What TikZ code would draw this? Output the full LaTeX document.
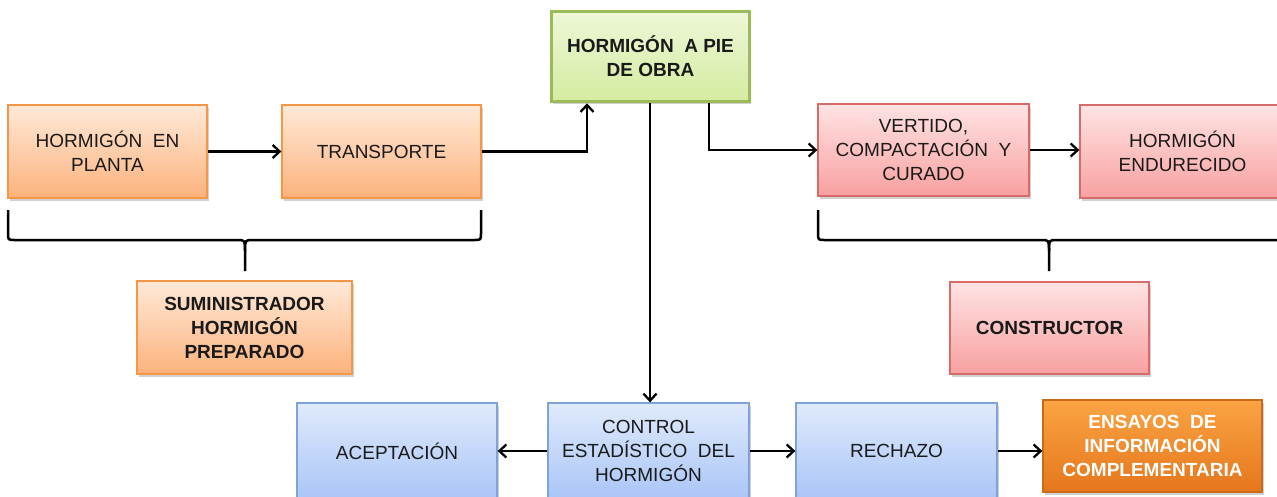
\documentclass[tikz,border=0pt]{standalone}
\usepackage{fontspec}
\setmainfont{Liberation Sans}
\usetikzlibrary{arrows.meta,shadows,calc}
\definecolor{orT}{HTML}{FFE9D8}
\definecolor{orB}{HTML}{FBB27C}
\definecolor{orD}{HTML}{F79646}
\definecolor{rdT}{HTML}{FFE3E3}
\definecolor{rdB}{HTML}{F8A0A0}
\definecolor{rdD}{HTML}{D86A6A}
\definecolor{blT}{HTML}{E0EAFC}
\definecolor{blB}{HTML}{A9C5F7}
\definecolor{blD}{HTML}{7FA3D9}
\definecolor{grT}{HTML}{EEF7D8}
\definecolor{grB}{HTML}{D4ECA0}
\definecolor{grD}{HTML}{9BBB59}
\definecolor{esT}{HTML}{FAA443}
\definecolor{esB}{HTML}{E5761C}
\definecolor{esD}{HTML}{CC6A1A}
\definecolor{txt}{HTML}{1A1A1A}
\tikzset{
  box/.style={rectangle, draw, line width=1.3pt, align=center, inner sep=2pt,
    font=\fontsize{19}{24}\selectfont, text=txt,
    drop shadow={shadow xshift=1.5pt, shadow yshift=-2.5pt, opacity=0.3, fill=black!60}},
  orbox/.style={box, top color=orT, bottom color=orB, draw=orD},
  rdbox/.style={box, top color=rdT, bottom color=rdB, draw=rdD},
  blbox/.style={box, top color=blT, bottom color=blB, draw=blD},
  grbox/.style={box, top color=grT, bottom color=grB, draw=grD, line width=3.5pt},
  esbox/.style={box, top color=esT, bottom color=esB, draw=esD, text=white},
  bold/.style={font=\fontsize{19}{24}\selectfont\bfseries},
  arr/.style={line width=2.3pt, -{Straight Barb[length=7pt,width=13pt,line width=2.3pt]}},
  brace/.style={line width=2.5pt, line join=round}
}
\begin{document}
\begin{tikzpicture}[x=1pt,y=-1pt]
\useasboundingbox (0,0) rectangle (1277,496);
% top-left row
\node[orbox, minimum width=199pt, minimum height=93pt] (planta) at (107.5,151.5) {HORMIGÓN\ \ EN\\PLANTA};
\node[orbox, minimum width=199pt, minimum height=93pt] (transp) at (381.5,151.5) {TRANSPORTE};
\node[orbox, bold, minimum width=215pt, minimum height=93pt] (sumin) at (244.5,327.5) {SUMINISTRADOR\\HORMIGÓN\\PREPARADO};
% centre
\node[grbox, bold, minimum width=198pt, minimum height=90pt] (pie) at (650.5,56.5) {HORMIGÓN\ \ A PIE\\DE OBRA};
% top-right
\node[rdbox, minimum width=211pt, minimum height=92pt] (vert) at (923.5,150) {VERTIDO,\\COMPACTACIÓN\ \ Y\\CURADO};
\node[rdbox, minimum width=205pt, minimum height=93pt] (endu) at (1182.5,151.5) {HORMIGÓN\\ENDURECIDO};
\node[rdbox, bold, minimum width=199pt, minimum height=92pt] (constr) at (1049.5,328) {CONSTRUCTOR};
% bottom row
\node[blbox, minimum width=200pt, minimum height=96pt] (acep) at (397,451) {ACEPTACIÓN};
\node[blbox, minimum width=201pt, minimum height=96pt] (ctrl) at (648.5,451) {CONTROL\\ESTADÍSTICO\ \ DEL\\HORMIGÓN};
\node[blbox, minimum width=201pt, minimum height=96pt] (rech) at (896.5,451) {RECHAZO};
\node[esbox, bold, text=white, minimum width=219pt, minimum height=92pt] (ensa) at (1152.5,446) {ENSAYOS\ \ DE\\INFORMACIÓN\\COMPLEMENTARIA};
% connectors
\draw[arr] (planta.east) -- (transp.west);
\draw[arr] (transp.east) -| ([xshift=-63.5pt]pie.south);
\draw[arr] ([xshift=-0.5pt]pie.south) -- ([xshift=-0.5pt]pie.south |- ctrl.north);
\draw[arr] ([xshift=58.5pt]pie.south) |- (vert.west);
\draw[arr] (vert.east) -- (vert.east -| endu.west);
\draw[arr] (ctrl.west) -- (acep.east);
\draw[arr] (ctrl.east) -- (rech.west);
\draw[arr] (rech.east) -- (rech.east -| ensa.west);
% braces
\coordinate (bl1) at (8,210);
\coordinate (bl2) at (481,210);
\coordinate (blt) at (245,271);
\draw[brace] (bl1) -- (8,233) .. controls (8,240) .. (15,240) -- (237,240) .. controls (245,240) .. (245,251) -- (blt);
\draw[brace] (245,251) .. controls (245,240) .. (253,240) -- (474,240) .. controls (481,240) .. (481,233) -- (bl2);
\coordinate (br1) at (818,210);
\coordinate (br2) at (1290,210);
\coordinate (brt) at (1049,271);
\draw[brace] (br1) -- (818,233) .. controls (818,240) .. (825,240) -- (1041,240) .. controls (1049,240) .. (1049,251) -- (brt);
\draw[brace] (1049,251) .. controls (1049,240) .. (1057,240) -- (1283,240) .. controls (1290,240) .. (1290,233) -- (br2);
\end{tikzpicture}
\end{document}
